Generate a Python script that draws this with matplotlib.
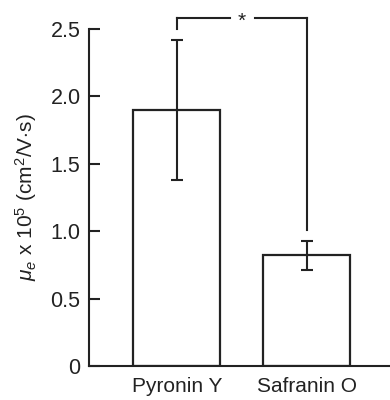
import matplotlib
matplotlib.use('Agg')
import matplotlib.pyplot as plt

plt.rcParams['font.family'] = ['Liberation Sans', 'DejaVu Sans']
plt.rcParams['mathtext.fontset'] = 'custom'
plt.rcParams['mathtext.rm'] = 'Liberation Sans'
plt.rcParams['mathtext.it'] = 'Liberation Sans:italic'

dyes = ['Pyronin Y', 'Safranin O']
mobility = [1.90, 0.82]
err = [0.52, 0.11]
ticks = [0, 0.5, 1.0, 1.5, 2.0, 2.5]
tick_labels = ['0', '0.5', '1.0', '1.5', '2.0', '2.5']
sig_top = 2.58
sig_legs = [2.50, 1.01]

col = '#222222'
fig = plt.figure(figsize=(3.9, 4.0), dpi=100)
ax = fig.add_axes([0.228, 0.085, 0.772, 0.8425])

x = range(len(dyes))
ax.bar(x, mobility, width=0.67, color='white', edgecolor=col, linewidth=1.6)
ax.errorbar(x, mobility, yerr=err, fmt='none', ecolor=col, elinewidth=1.5,
            capsize=4, capthick=1.5)

# significance bracket
ax.plot([0, 0], [sig_legs[0], sig_top], color=col, lw=1.5, clip_on=False)
ax.plot([1, 1], [sig_legs[1], sig_top], color=col, lw=1.5, clip_on=False)
ax.plot([0, 0.41], [sig_top, sig_top], color=col, lw=1.5, clip_on=False, solid_capstyle='projecting')
ax.plot([0.6, 1], [sig_top, sig_top], color=col, lw=1.5, clip_on=False, solid_capstyle='projecting')
ax.text(0.5, sig_top - 0.02, '*', ha='center', va='center', fontsize=15, color=col)

ax.set_xlim(-0.677, 1.64)
ax.set_ylim(0, 2.5)
ax.set_xticks(list(x))
ax.set_xticklabels(dyes, fontsize=15)
ax.set_yticks(ticks)
ax.set_yticklabels(tick_labels, fontsize=15.5)
ax.tick_params(axis='x', length=0, pad=8, colors=col)
ax.tick_params(axis='y', direction='in', length=8, width=1.5, pad=6, colors=col)
for s in ['top', 'right']:
    ax.spines[s].set_visible(False)
for s in ['left', 'bottom']:
    ax.spines[s].set_linewidth(1.5)
    ax.spines[s].set_color(col)
ax.set_ylabel(r'$\mu_e$ x 10$^5$ (cm$^2$/V$\cdot$s)', fontsize=15, color=col, labelpad=8)

fig.savefig('out.png', dpi=100)
